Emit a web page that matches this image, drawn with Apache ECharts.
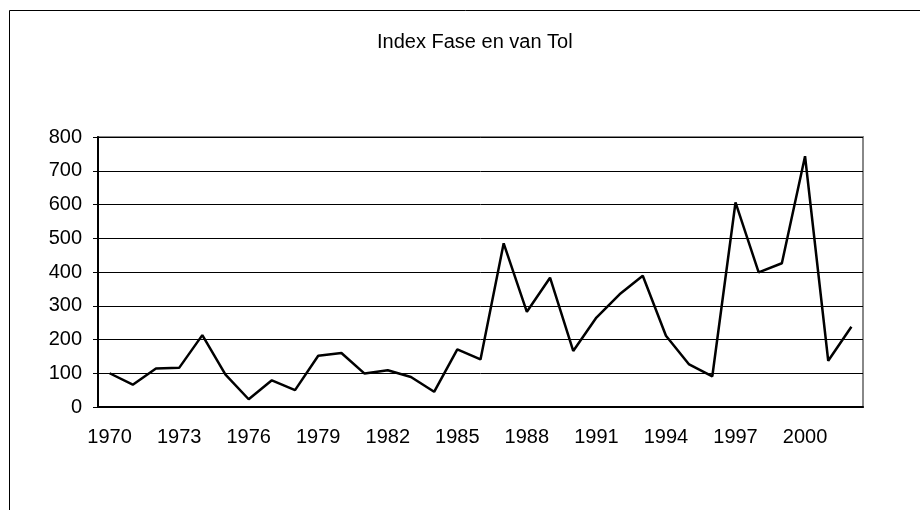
<!DOCTYPE html>
<html>
<head>
<meta charset="utf-8">
<script src="https://cdn.jsdelivr.net/npm/echarts@6/dist/echarts.min.js"></script>
<style>
  html, body { margin: 0; padding: 0; background: #fff; }
  #chart { width: 920px; height: 510px; }
</style>
</head>
<body>
<div id="chart"></div>
<script>
const years = [
  '1970', '1971', '1972', '1973', '1974', '1975', '1976', '1977', '1978', '1979',
  '1980', '1981', '1982', '1983', '1984', '1985', '1986', '1987', '1988', '1989',
  '1990', '1991', '1992', '1993', '1994', '1995', '1996', '1997', '1998', '1999',
  '2000', '2001', '2002'
];
const indexValues = [
  100, 66, 114, 116, 213, 96, 23, 79, 50, 152,
  160, 99, 109, 89, 45, 171, 141, 485, 282, 383,
  166, 265, 334, 389, 211, 126, 91, 606, 399, 426,
  743, 137, 238
];
const chartTitle = 'Index Fase en van Tol';

const chart = echarts.init(document.getElementById('chart'));
const font = 'Liberation Sans, Arial, sans-serif';

chart.setOption({
  animation: false,
  backgroundColor: '#fff',
  title: {
    text: chartTitle,
    left: 372,
    top: 27,
    textStyle: { fontFamily: font, fontSize: 20, fontWeight: 'normal', color: '#000' }
  },
  // outer chart frame (only left and top edges visible in the crop)
  graphic: [{
    type: 'rect',
    shape: { x: 9.5, y: 10.5, width: 1000, height: 1000 },
    style: { fill: null, stroke: '#000', lineWidth: 1 },
    silent: true
  }],
  grid: {
    left: 98, right: 57, top: 137, bottom: 103,
    show: true, borderColor: '#888', borderWidth: 2, backgroundColor: 'transparent'
  },
  xAxis: {
    type: 'category',
    data: years,
    boundaryGap: true,
    axisLine: { lineStyle: { color: '#000', width: 2 } },
    axisTick: { interval: 0, length: 5, lineStyle: { color: '#000' } },
    axisLabel: { interval: 2, margin: 20, color: '#000', fontFamily: font, fontSize: 20 },
    splitLine: { show: false }
  },
  yAxis: {
    type: 'value',
    min: 0, max: 800, interval: 100,
    axisLine: { show: true, lineStyle: { color: '#000', width: 2 } },
    axisTick: { show: true, length: 5, lineStyle: { color: '#000' } },
    axisLabel: { margin: 16, color: '#000', fontFamily: font, fontSize: 20 },
    splitLine: { lineStyle: { color: '#000', width: 1 } }
  },
  series: [{
    type: 'line',
    data: indexValues,
    showSymbol: false,
    lineStyle: { color: '#000', width: 2.5 }
  }]
});
</script>
</body>
</html>
